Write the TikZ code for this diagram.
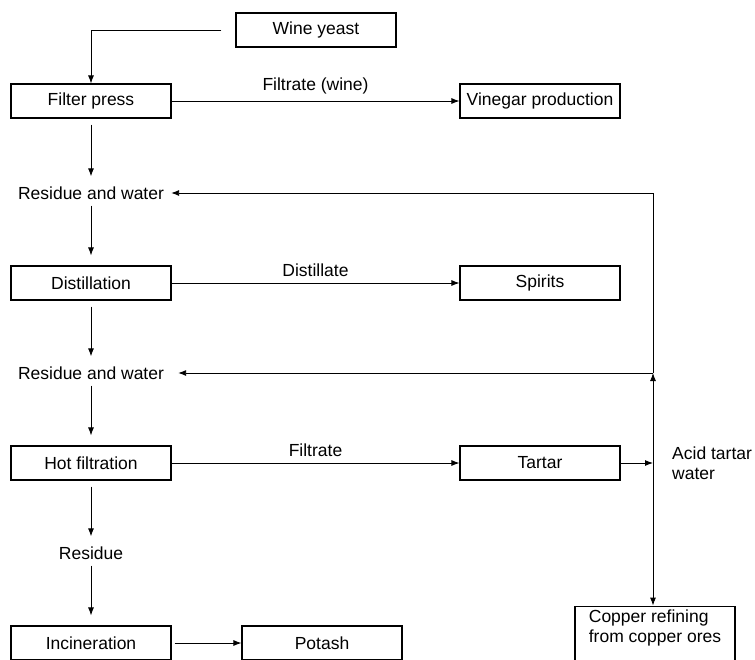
\documentclass[tikz,border=0pt]{standalone}
\usepackage{fontspec}
\setmainfont{Liberation Sans}
\usetikzlibrary{arrows.meta,positioning}
\begin{document}
\begin{tikzpicture}
    [x=1pt,y=1pt,node distance=90pt,on grid,
    font=\fontsize{17.5pt}{20pt}\selectfont,
    box/.style={draw,line width=1.1pt,minimum width=160pt,minimum height=34pt,inner sep=3.5pt},
    txt/.style={inner sep=0pt},
    flow/.style={line width=0.9pt,-{Latex[length=8pt,width=6pt]}},
    down/.style={flow,shorten <=6pt,shorten >=10pt}]
    \useasboundingbox (0,0) rectangle (755,-659);
    % 左边一列的工序
    \node [box] (fp) at (91,-101) {Filter press};
    \node [txt] (res1) [below=92pt of fp] {Residue and water};
    \node [box] (dist) [below=of res1] {Distillation};
    \node [txt] (res2) [below=of dist] {Residue and water};
    \node [box] (hot) [below=of res2] {Hot filtration};
    \node [txt] (res3) [below=of hot] {Residue};
    \node [box] (inc) [below=of res3] {Incineration};
    % 右边的产物
    \node [box] (wy) [above right=71pt and 225pt of fp] {Wine yeast};
    \node [box] (vin) [right=449pt of fp] {Vinegar production};
    \node [box] (sp) [right=449pt of dist] {Spirits};
    \node [box] (tt) [right=449pt of hot] {Tartar};
    \node [box] (pot) [right=231pt of inc] {Potash};
    \coordinate [right=113pt of tt] (j);
    \coordinate (u1) at (j |- res1);
    \coordinate (u2) at (j |- res2);
    \node [txt,align=left] (acid) [right=19pt of j,anchor=west] {Acid tartar\\water};
    \node [box,align=left] (cu) at ([shift={(2pt,-173pt)}]j) {Copper refining\\from copper ores\\\mbox{}};
    % 主流程的箭头
    \draw [flow,shorten <=14pt] (wy) -| (fp);
    \draw [flow] (fp) -- node [txt,above=6pt] {Filtrate (wine)} (vin);
    \draw [down] (fp) -- (res1);
    \draw [down] (res1) -- (dist);
    \draw [flow] (dist) -- node [txt,above=6pt] {Distillate} (sp);
    \draw [down] (dist) -- (res2);
    \draw [down] (res2) -- (hot);
    \draw [flow] (hot) -- node [txt,above=6pt] {Filtrate} (tt);
    \draw [down] (hot) -- (res3);
    \draw [down] (res3) -- (inc);
    \draw [flow,shorten <=3pt] (inc) -- (pot);
    % 酸性酒石水的回流
    \draw [flow] (tt) -- (j);
    \draw [flow] (j) -- (u2);
    \draw [flow] (j) -- (cu.north -| j);
    \draw [flow,shorten >=7pt] (u2) -- (u1) -- (res1);
    \draw [flow,shorten >=14pt] (u2) -- (res2);
\end{tikzpicture}
\end{document}
